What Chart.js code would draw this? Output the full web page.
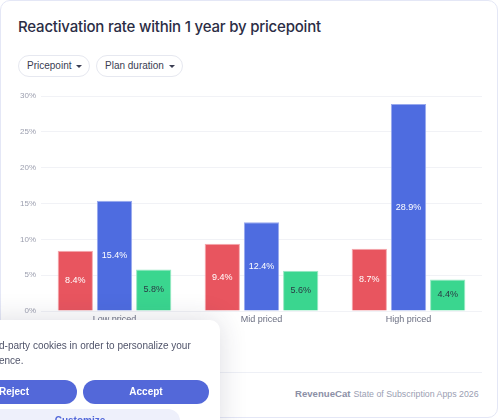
<!DOCTYPE html>
<html><head><meta charset="utf-8">
<script src="https://cdn.jsdelivr.net/npm/chart.js@4"></script>
<style>
html,body{margin:0;padding:0;width:500px;height:420px;overflow:hidden;background:#fff;font-family:"Liberation Sans",Arial,sans-serif;}
.card{position:absolute;left:0;top:0;width:496px;height:416px;border:1px solid #e4e7f6;border-radius:10px;box-sizing:content-box;}
.title{position:absolute;left:18px;top:17px;font-family:Inter,"Noto Sans",sans-serif;font-size:15px;font-weight:500;color:#2b2d45;letter-spacing:-0.2px;white-space:nowrap;}
.pill{position:absolute;top:55px;height:20px;border:1px solid #e6e8f0;border-radius:11px;font-size:10px;color:#3a3d52;line-height:20px;padding:0 7px 0 8px;white-space:nowrap;}
.pill:after{content:"";display:inline-block;margin-left:5px;vertical-align:middle;border-left:3px solid transparent;border-right:3px solid transparent;border-top:3px solid #3a3d52;}
#wrap{position:absolute;left:0;top:85px;width:490px;height:245px;}
.hr{position:absolute;left:0;top:372px;width:482px;height:1px;background:#eef0f6;}
.foot{position:absolute;top:388px;left:295px;font-size:8.8px;color:#9a9eb2;white-space:nowrap;}
.foot b{font-weight:700;font-size:9.6px;color:#8c90a6;margin-right:3px;}
.banner{position:absolute;left:-20px;top:320px;width:240px;height:120px;background:#fff;border-radius:10px;box-shadow:0 0 28px rgba(40,40,70,0.16);}
.btxt{position:absolute;font-size:10px;color:#50546a;white-space:nowrap;}
.btn{position:absolute;height:24px;border-radius:12px;background:#5368d9;color:#fff;font-size:10px;font-weight:700;text-align:center;line-height:24px;}
.btn2{position:absolute;height:24px;border-radius:12px;background:#eef0fb;color:#5368d9;font-size:10px;font-weight:700;text-align:center;line-height:24px;}
</style></head>
<body>
<div class="card"></div>
<div class="title">Reactivation rate within 1 year by pricepoint</div>
<div class="pill" style="left:18px">Pricepoint</div>
<div class="pill" style="left:96px">Plan duration</div>
<div id="wrap"><canvas id="c"></canvas></div>
<div class="hr"></div>
<div class="foot"><b>RevenueCat</b>State of Subscription Apps 2026</div>
<div class="banner"></div>
<div class="btxt" style="left:-1px;top:340px">d-party cookies in order to personalize your</div>
<div class="btxt" style="left:-1px;top:355px">ence.</div>
<div class="btn" style="left:-49px;top:380px;width:126px;">Reject</div>
<div class="btn" style="left:83px;top:380px;width:126px;">Accept</div>
<div class="btn2" style="left:-20px;top:409px;width:200px;">Customize</div>
<script>
const categories = ["Low priced", "Mid priced", "High priced"];
const seriesA = [8.4, 9.4, 8.7];
const seriesB = [15.4, 12.4, 28.9];
const seriesC = [5.8, 5.6, 4.4];
const yTicks = [0, 5, 10, 15, 20, 25, 30];
const FONT = '"Liberation Sans", Arial, sans-serif';

const labelPlugin = {
  id: 'barLabels',
  afterDatasetsDraw(chart) {
    const ctx = chart.ctx;
    ctx.save();
    ctx.font = '9px ' + FONT;
    ctx.textAlign = 'center';
    ctx.textBaseline = 'middle';
    chart.data.datasets.forEach((ds, i) => {
      const meta = chart.getDatasetMeta(i);
      meta.data.forEach((bar, j) => {
        const y = (bar.y + bar.base) / 2;
        ctx.fillStyle = ds.labelColor;
        ctx.fillText(ds.data[j].toFixed(1) + '%', bar.x, y);
      });
    });
    ctx.restore();
  }
};

new Chart(document.getElementById('c'), {
  type: 'bar',
  data: {
    labels: categories,
    datasets: [
      {label: 'A', data: seriesA, backgroundColor: '#e8555f', borderColor: '#f5a9ae', borderWidth: 1, labelColor: '#ffffff'},
      {label: 'B', data: seriesB, backgroundColor: '#4e6ce0', borderColor: '#98a9ee', borderWidth: 1, labelColor: '#ffffff'},
      {label: 'C', data: seriesC, backgroundColor: '#3ad68f', borderColor: '#98e8c2', borderWidth: 1, labelColor: '#2a3a44'}
    ]
  },
  options: {
    responsive: true,
    maintainAspectRatio: false,
    animation: false,
    layout: {padding: {left: 0, right: 8, top: 11, bottom: 0}},
    plugins: {legend: {display: false}, tooltip: {enabled: false}},
    scales: {
      x: {
        grid: {display: false, drawTicks: false},
        border: {display: false},
        ticks: {color: '#6b6f82', font: {size: 9, family: FONT}, padding: 3},
        afterFit(s) { s.height = 19; }
      },
      y: {
        min: 0, max: 30,
        afterBuildTicks(s) { s.ticks = yTicks.map(v => ({value: v})); },
        grid: {color: '#f1f2f6', drawTicks: false},
        border: {display: false},
        ticks: {color: '#9b9eae', font: {size: 8, family: FONT}, padding: 5, callback: v => v + '%'},
        afterFit(s) { s.width = 41; }
      }
    }
  },
  plugins: [labelPlugin]
});
</script>
</body></html>
